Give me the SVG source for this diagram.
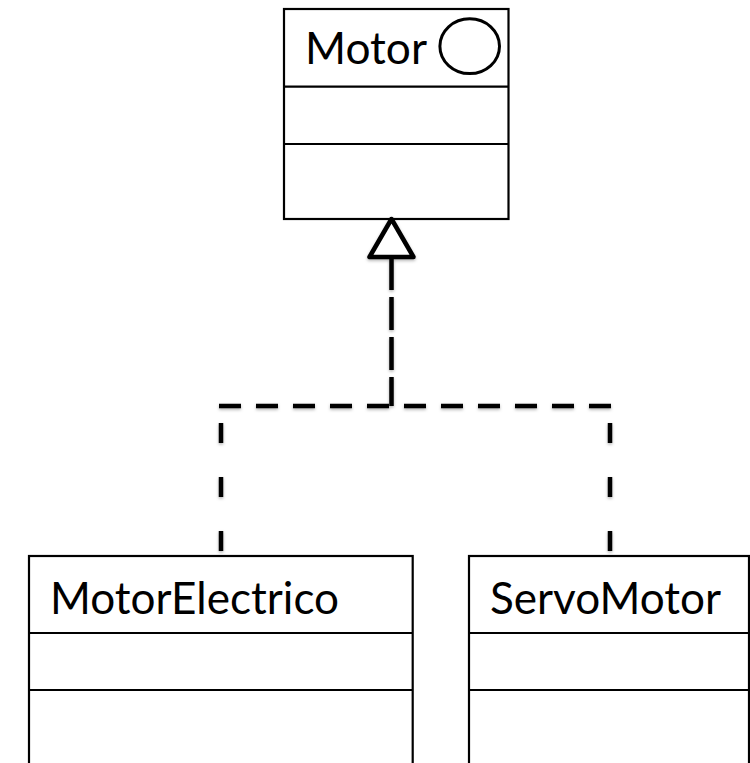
<svg xmlns="http://www.w3.org/2000/svg" width="750" height="763" viewBox="0 0 750 763">
  <defs>
    <style>
      .box { fill: #ffffff; stroke: #000000; stroke-width: 2.2; }
      .sep { stroke: #000000; stroke-width: 2.2; }
      .name { font-family: Lato, "Open Sans", "Liberation Sans", sans-serif; font-size: 43.5px; fill: #000000; }
      .dash { fill: none; stroke: #000000; stroke-width: 4.5; }
      .head { fill: #ffffff; stroke: #000000; stroke-width: 4.5; stroke-linejoin: round; }
    </style>
    <filter id="shade" x="-10%" y="-10%" width="120%" height="120%">
      <feDropShadow dx="0" dy="1.5" stdDeviation="1.5" flood-color="#000000" flood-opacity="0.3"/>
    </filter>
  </defs>

  <rect width="750" height="763" fill="#ffffff"/>

  <!-- Interface: Motor -->
  <g id="motor">
    <rect class="box" x="284" y="9" width="224.5" height="210"/>
    <line class="sep" x1="284" y1="86.7" x2="508.5" y2="86.7"/>
    <line class="sep" x1="284" y1="144" x2="508.5" y2="144"/>
    <text class="name" x="305" y="64" textLength="122" lengthAdjust="spacingAndGlyphs">Motor</text>
    <ellipse cx="469.7" cy="46.2" rx="29.8" ry="27.4" fill="none" stroke="#000000" stroke-width="3"/>
  </g>

  <!-- Class: MotorElectrico -->
  <g id="motor-electrico">
    <rect class="box" x="29" y="556" width="383.7" height="230"/>
    <line class="sep" x1="29" y1="633" x2="412.7" y2="633"/>
    <line class="sep" x1="29" y1="690" x2="412.7" y2="690"/>
    <text class="name" x="50" y="614" textLength="289" lengthAdjust="spacingAndGlyphs">MotorElectrico</text>
  </g>

  <!-- Class: ServoMotor -->
  <g id="servo-motor">
    <rect class="box" x="469" y="556" width="280" height="230"/>
    <line class="sep" x1="469" y1="633" x2="749" y2="633"/>
    <line class="sep" x1="469" y1="690" x2="749" y2="690"/>
    <text class="name" x="490" y="614" textLength="231" lengthAdjust="spacingAndGlyphs">ServoMotor</text>
  </g>

  <!-- Realization connectors -->
  <g id="connectors" filter="url(#shade)">
    <line class="dash" x1="391.5" y1="257" x2="391.5" y2="406" stroke-dasharray="33 7"/>
    <line class="dash" x1="219" y1="406" x2="613" y2="406" stroke-dasharray="22 15"/>
    <line class="dash" x1="221" y1="406" x2="221" y2="555" stroke-dasharray="0 17 20 17"/>
    <line class="dash" x1="610" y1="406" x2="610" y2="555" stroke-dasharray="0 17 20 17"/>
    <polygon class="head" points="391.5,219 369.5,257 413.5,257"/>
  </g>
</svg>
